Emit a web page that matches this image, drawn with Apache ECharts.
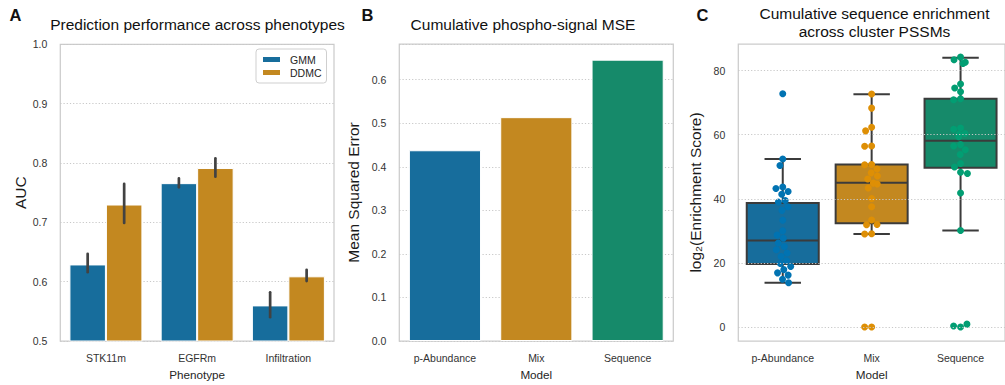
<!DOCTYPE html>
<html><head><meta charset="utf-8">
<script src="https://cdn.jsdelivr.net/npm/echarts@6/dist/echarts.min.js"></script>
<style>html,body{margin:0;padding:0;background:#fff}#c{width:1005px;height:385px}</style>
</head><body><div id="c"></div>
<script>
// ---------- Panel A data ----------
const phenotypes = ['STK11m', 'EGFRm', 'Infiltration'];
const gmmAUC   = [0.629, 0.766, 0.560];
const gmmLow   = [0.616, 0.759, 0.540];
const gmmHigh  = [0.647, 0.774, 0.582];
const ddmcAUC  = [0.730, 0.7915, 0.609];
const ddmcLow  = [0.699, 0.777, 0.601];
const ddmcHigh = [0.765, 0.808, 0.620];

// ---------- Panel B data ----------
const models = ['p-Abundance', 'Mix', 'Sequence'];
const mse = [0.438, 0.514, 0.646];

// ---------- Panel C data ----------
const enrichPAbundance = [72.8, 52.4, 50.4, 43.7, 43.2, 42.3, 41.4, 39.5, 39.0, 37.5, 36.4, 33.3, 30.0, 28.7,
  27.7, 26.2, 25.1, 24.1, 23.1, 22.0, 20.7, 19.8, 18.9, 17.9, 16.9, 16.2, 14.9, 13.8];
const enrichMix = [72.7, 68.3, 62.3, 61.2, 56.5, 56.4, 50.7, 50.6, 49.3, 48.1, 47.1, 46.2, 44.9, 44.6, 43.4,
  40.1, 37.5, 33.4, 31.9, 32.0, 29.1, 29.0, 0, 0];
const enrichSequence = [84.2, 83.4, 82.6, 82.2, 75.8, 74.6, 73.4, 71.2, 70.9, 62.1, 61.7, 60.4, 60.1, 59.4,
  56.9, 56.5, 55.3, 53.8, 51.0, 49.9, 48.3, 47.9, 41.8, 30.1, 0, 0.3, 0.9];
// min, Q1, median, Q3, max (whisker ends)
const boxStats = [
  [13.8, 19.7, 27.0, 38.7, 52.4],
  [29.0, 32.4, 45.0, 50.7, 72.6],
  [30.1, 49.7, 58.1, 71.2, 84.0]
];
const enrichTicks = [0, 20, 40, 60, 80];

// ---------- styling ----------
const FONT = '"Liberation Sans", Arial, Helvetica, sans-serif';
const barCols = ['#176d9c', '#c38820', '#168a6a'];
const dotCols = ['#0173b2', '#de8f05', '#029e73'];
const gridLine = { show: true, lineStyle: { color: '#c8c8c8', width: 1.1, type: [1.2, 2] } };
const tickLbl = { color: '#333333', fontSize: 10.5, fontFamily: FONT };
const nameY = { color: '#1a1a1a', fontSize: 15.5, fontFamily: FONT };
const nameX = { color: '#262626', fontSize: 11.7, fontFamily: FONT };
const gridBase = { show: true, borderColor: '#cccccc', borderWidth: 1.25, backgroundColor: '#fff' };

function errRender(params, api) {
  const i = api.value(0);
  const lo = api.coord([i, api.value(1)]);
  const hi = api.coord([i, api.value(2)]);
  const band = api.size([1, 0])[0];
  const off = (api.value(3) === 0 ? -0.2 : 0.2) * band;
  return { type: 'line', shape: { x1: lo[0] + off, y1: lo[1], x2: hi[0] + off, y2: hi[1] },
    style: { stroke: '#424242', lineWidth: 2.7, lineCap: 'round' } };
}

function boxRender(params, api) {
  const i = api.value(0);
  const band = api.size([1, 0])[0];
  const half = band * 0.405, cap = band * 0.205;
  const pMin = api.coord([i, api.value(1)]);
  const x = pMin[0];
  const yMin = pMin[1];
  const yQ1 = api.coord([i, api.value(2)])[1];
  const yMed = api.coord([i, api.value(3)])[1];
  const yQ3 = api.coord([i, api.value(4)])[1];
  const yMax = api.coord([i, api.value(5)])[1];
  const st = { stroke: '#3b3b3b', lineWidth: 2 };
  return { type: 'group', children: [
    { type: 'line', shape: { x1: x, y1: yQ1, x2: x, y2: yMin }, style: st },
    { type: 'line', shape: { x1: x, y1: yQ3, x2: x, y2: yMax }, style: st },
    { type: 'line', shape: { x1: x - cap, y1: yMin, x2: x + cap, y2: yMin }, style: st },
    { type: 'line', shape: { x1: x - cap, y1: yMax, x2: x + cap, y2: yMax }, style: st },
    { type: 'rect', shape: { x: x - half, y: yQ3, width: 2 * half, height: yQ1 - yQ3 },
      style: { fill: barCols[i], stroke: '#3b3b3b', lineWidth: 2 } },
    { type: 'line', shape: { x1: x - half, y1: yMed, x2: x + half, y2: yMed }, style: st }
  ] };
}

const chart = echarts.init(document.getElementById('c'), null, { renderer: 'svg', width: 1005, height: 385 });

const txt = (t, x, y, size, weight, align) => ({
  type: 'text', x: x, y: y,
  style: { text: t, fontSize: size, fontWeight: weight || 'normal', fontFamily: FONT, fill: '#111111',
    textAlign: align || 'left', textVerticalAlign: 'middle' }
});

const option = {
  backgroundColor: '#ffffff',
  animation: false,
  graphic: [
    txt('A', 9.5, 14.5, 16.5, 'bold'),
    txt('B', 361.5, 14.5, 16.5, 'bold'),
    txt('C', 696.5, 14.5, 16.5, 'bold'),
    txt('Prediction performance across phenotypes', 197.5, 24, 15.5, 'normal', 'center'),
    txt('Cumulative phospho-signal MSE', 523, 24.5, 15.5, 'normal', 'center'),
    txt('Cumulative sequence enrichment', 874.5, 13.8, 15.5, 'normal', 'center'),
    txt('across cluster PSSMs', 874.5, 31.2, 15.5, 'normal', 'center')
  ],
  legend: {
    data: ['GMM', 'DDMC'], orient: 'vertical', left: 256, top: 49,
    itemWidth: 19, itemHeight: 7, itemGap: 2, icon: 'rect',
    padding: [5, 5, 5, 5], borderColor: '#cfcfcf', borderWidth: 1, borderRadius: 3,
    backgroundColor: 'rgba(255,255,255,0.8)',
    textStyle: { fontSize: 10.5, color: '#262626', fontFamily: FONT, padding: [0, 0, 0, 4] }
  },
  grid: [
    Object.assign({ left: 60.3, top: 44.3, width: 273.7, height: 299 }, gridBase),
    Object.assign({ left: 399.3, top: 44, width: 274, height: 299.3 }, gridBase),
    Object.assign({ left: 738.3, top: 44, width: 274, height: 299.7 }, gridBase)
  ],
  xAxis: [
    { gridIndex: 0, type: 'category', data: phenotypes, axisLine: { show: false }, axisTick: { show: false },
      axisLabel: Object.assign({ margin: 11 }, tickLbl),
      name: 'Phenotype', nameLocation: 'middle', nameGap: 27, nameTextStyle: nameX },
    { gridIndex: 1, type: 'category', data: models, axisLine: { show: false }, axisTick: { show: false },
      axisLabel: Object.assign({ margin: 11 }, tickLbl),
      name: 'Model', nameLocation: 'middle', nameGap: 27, nameTextStyle: nameX },
    { gridIndex: 2, type: 'category', data: models, axisLine: { show: false }, axisTick: { show: false },
      axisLabel: Object.assign({ margin: 11 }, tickLbl),
      jitter: 17, jitterOverlap: false, jitterMargin: 0,
      name: 'Model', nameLocation: 'middle', nameGap: 27, nameTextStyle: nameX }
  ],
  yAxis: [
    { gridIndex: 0, type: 'value', min: 0.5, max: 1.0, interval: 0.1,
      axisLine: { show: false }, axisTick: { show: false }, splitLine: gridLine,
      axisLabel: Object.assign({ margin: 13, formatter: v => v.toFixed(1) }, tickLbl),
      name: 'AUC', nameLocation: 'middle', nameGap: 31, nameTextStyle: nameY },
    { gridIndex: 1, type: 'value', min: 0, max: 0.682, interval: 0.1,
      axisLine: { show: false }, axisTick: { show: false }, splitLine: gridLine,
      axisLabel: Object.assign({ margin: 13, showMaxLabel: false, formatter: v => v.toFixed(1) }, tickLbl),
      name: 'Mean Squared Error', nameLocation: 'middle', nameGap: 38, nameTextStyle: nameY },
    { gridIndex: 2, type: 'value', min: -4.36, max: 88.3,
      axisLine: { show: false }, axisTick: { show: false }, splitLine: { show: false },
      axisLabel: Object.assign({ margin: 13, customValues: enrichTicks }, tickLbl),
      name: 'log\u2082(Enrichment Score)', nameLocation: 'middle', nameGap: 35, nameTextStyle: nameY }
  ],
  series: [
    { name: 'GMM', type: 'bar', xAxisIndex: 0, yAxisIndex: 0, data: gmmAUC, barWidth: '40%', barGap: '0%',
      itemStyle: { color: barCols[0], borderColor: '#ffffff', borderWidth: 1 }, z: 2 },
    { name: 'DDMC', type: 'bar', xAxisIndex: 0, yAxisIndex: 0, data: ddmcAUC, barWidth: '40%', barGap: '0%',
      itemStyle: { color: barCols[1], borderColor: '#ffffff', borderWidth: 1 }, z: 2 },
    { type: 'custom', xAxisIndex: 0, yAxisIndex: 0, renderItem: errRender, z: 3,
      data: phenotypes.map((p, i) => [i, gmmLow[i], gmmHigh[i], 0])
        .concat(phenotypes.map((p, i) => [i, ddmcLow[i], ddmcHigh[i], 1])) },
    { type: 'bar', xAxisIndex: 1, yAxisIndex: 1, barWidth: '79%', z: 2,
      data: mse.map((v, i) => ({ value: v, itemStyle: { color: barCols[i], borderColor: '#ffffff', borderWidth: 1 } })) },
    { type: 'line', xAxisIndex: 2, yAxisIndex: 2, data: [], z: 1, silent: true,
      markLine: { silent: true, symbol: 'none', label: { show: false },
        lineStyle: { color: '#c8c8c8', width: 1.1, type: [1.2, 2] },
        data: enrichTicks.map(v => ({ yAxis: v })) } },
    { type: 'custom', xAxisIndex: 2, yAxisIndex: 2, renderItem: boxRender, z: 2,
      data: boxStats.map((s, i) => [i].concat(s)) },
    { type: 'scatter', xAxisIndex: 2, yAxisIndex: 2, symbolSize: 7, z: 3,
      itemStyle: { color: dotCols[0], opacity: 1 }, data: enrichPAbundance.map(v => [0, v]) },
    { type: 'scatter', xAxisIndex: 2, yAxisIndex: 2, symbolSize: 7, z: 3,
      itemStyle: { color: dotCols[1], opacity: 1 }, data: enrichMix.map(v => [1, v]) },
    { type: 'scatter', xAxisIndex: 2, yAxisIndex: 2, symbolSize: 7, z: 3,
      itemStyle: { color: dotCols[2], opacity: 1 }, data: enrichSequence.map(v => [2, v]) }
  ]
};
chart.setOption(option);
</script>
</body></html>
